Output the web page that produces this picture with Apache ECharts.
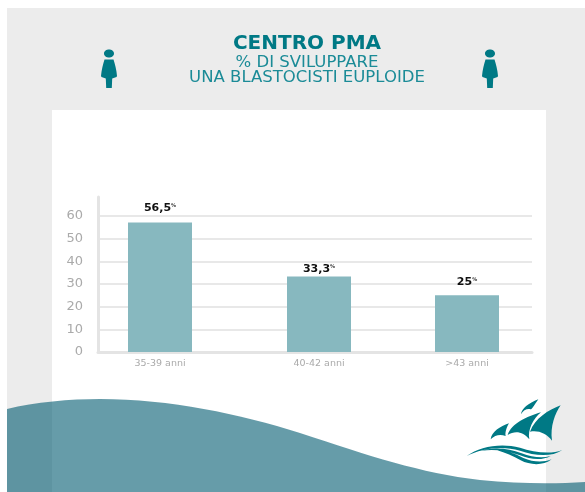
<!DOCTYPE html>
<html>

	<head>
		<meta charset="UTF-8">
		<title>Centro PMA</title>
		<script src="https://cdn.jsdelivr.net/npm/echarts@6/dist/echarts.min.js"></script>
		<style>
			html,
			body {
				margin: 0px;
				padding: 0px;
				height: 100%;
				width: 100%;
				overflow: hidden;
				background: #ffffff;
			}

			#main {
				height: 492px;
				width: 585px;
			}
		</style>
	</head>

	<body>
		<div id="main"></div>
		<script>
			var categories = ['35-39 anni', '40-42 anni', '>43 anni'];
			var barValues = [57.2, 33.3, 25];
			var barLabels = ['56,5', '33,3', '25'];

			// the bars are not evenly spaced in the picture, so x is a hidden value axis
			var xSlots = [62, 221, 369];
			var labelGaps = [9, 2, 8];

			var font = '"DejaVu Sans", sans-serif';
			var teal = '#007985';
			var womanPath = 'M-5,-34.5 C-5,-37 -2.5,-38.5 0,-38.5 C2.5,-38.5 5,-37 5,-34.5 C5,-32 2.5,-30.5 0,-30.5 C-2.5,-30.5 -5,-32 -5,-34.5 Z ' +
				'M-4.5,-28.5 L4.5,-28.5 C6,-24 7.5,-18 8,-12 L7.5,-11 L3.2,-9.5 L2.8,0 L-2.8,0 L-3.2,-9.5 L-7.5,-11 L-8,-12 C-7.5,-18 -6,-24 -4.5,-28.5 Z';
			var logoPath = 'M243,103 C245,85 265,70 295,58 C283,75 275,90 272,88 C262,85 250,90 243,103 Z ' +
				'M152,178 C155,155 180,140 207,130 C198,145 195,160 197,168 C180,162 165,165 152,178 Z ' +
				'M203,165 C215,130 260,110 303,97 C280,115 262,150 268,178 C250,155 225,150 203,165 Z ' +
				'M270,155 C285,115 325,90 362,76 C345,100 330,140 336,182 C320,160 295,150 270,155 Z ' +
				'M80,228 C120,200 180,188 240,203 C280,216 330,225 367,210 C335,232 285,228 240,212 C185,196 125,205 80,228 Z ' +
				'M125,212 C165,200 205,205 245,220 C275,231 305,236 332,228 C305,243 270,238 240,226 C200,212 165,207 125,212 Z ' +
				'M172,211 C200,210 225,222 250,234 C280,247 310,248 335,238 C310,258 270,256 242,241 C220,229 195,218 172,211 Z';
			var wavePath = 'M7,409 C35,402 70,399 100,399 C170,399 240,414 300,433 C370,456 420,473 480,480 C520,484 555,484 585,482 L585,492 L7,492 Z';

			// graphic has no path type, decorations go through a custom series
			function renderDecor() {
				return {
					type: 'group',
					children: [
						{ type: 'path', shape: { pathData: womanPath }, x: 109, y: 88, style: { fill: teal } },
						{ type: 'path', shape: { pathData: womanPath }, x: 490, y: 88, style: { fill: teal } },
						{ type: 'path', shape: { pathData: logoPath }, x: 440, y: 380, scaleX: 1 / 3, scaleY: 1 / 3, style: { fill: teal } },
						{ type: 'path', shape: { pathData: wavePath }, style: { fill: 'rgba(0,90,112,0.6)' } }
					]
				};
			}

			var chart = echarts.init(document.getElementById('main'), null, { renderer: 'canvas' });
			var option = {
				animation: false,
				backgroundColor: '#ffffff',
				title: [
					{ text: 'CENTRO PMA', left: 302, top: 29, textAlign: 'center', textStyle: { color: teal, fontFamily: font, fontSize: 20, fontWeight: 'bold' } },
					{ text: '% DI SVILUPPARE', left: 302, top: 49, textAlign: 'center', textStyle: { color: '#1b8b97', fontFamily: font, fontSize: 16.5, fontWeight: 'normal' } },
					{ text: 'UNA BLASTOCISTI EUPLOIDE', left: 302, top: 64, textAlign: 'center', textStyle: { color: '#1b8b97', fontFamily: font, fontSize: 16.5, fontWeight: 'normal' } }
				],
				grid: { left: 98, right: 53, top: 197, bottom: 140 },
				xAxis: {
					type: 'value',
					min: 0,
					max: 434,
					splitLine: { show: false },
					axisLine: { show: true, lineStyle: { color: '#e4e4e4', width: 3 } },
					axisTick: { show: false },
					axisLabel: {
						customValues: xSlots,
						color: '#aaaaaa',
						fontFamily: font,
						fontSize: 9.5,
						margin: 7,
						formatter: function (v) {
							return categories[xSlots.indexOf(v)];
						}
					}
				},
				yAxis: {
					type: 'value',
					min: 0,
					max: 68.4,
					interval: 10,
					axisLine: { show: true, lineStyle: { color: '#e4e4e4', width: 3 } },
					axisTick: { show: false },
					splitLine: { showMaxLine: false, lineStyle: { color: '#e8e8e8', width: 2 } },
					axisLabel: { showMaxLabel: false, color: '#aaaaaa', fontFamily: font, fontSize: 13, margin: 15 }
				},
				series: [{
					type: 'bar',
					barWidth: 64,
					itemStyle: { color: '#87b8bf' },
					label: {
						show: true,
						position: 'top',
						rich: {
							v: { color: '#111111', fontFamily: font, fontSize: 11, fontWeight: 'bold' },
							p: { color: '#333333', fontFamily: font, fontSize: 5, fontWeight: 'bold', padding: [0, 0, 5, 0] }
						}
					},
					data: barValues.map(function (v, i) {
						return {
							value: [xSlots[i], v],
							label: { distance: labelGaps[i], formatter: '{v|' + barLabels[i] + '}{p|%}' }
						};
					})
				}, {
					type: 'custom',
					coordinateSystem: 'none',
					silent: true,
					z: 1,
					renderItem: renderDecor,
					data: [0]
				}],
				graphic: [
					{ type: 'rect', z: -10, silent: true, shape: { x: 7, y: 8, width: 578, height: 484 }, style: { fill: '#ececec' } },
					{ type: 'rect', z: -9, silent: true, shape: { x: 52, y: 110, width: 494, height: 382 }, style: { fill: '#ffffff' } }
				]
			};
			chart.setOption(option);
		</script>
	</body>

</html>
